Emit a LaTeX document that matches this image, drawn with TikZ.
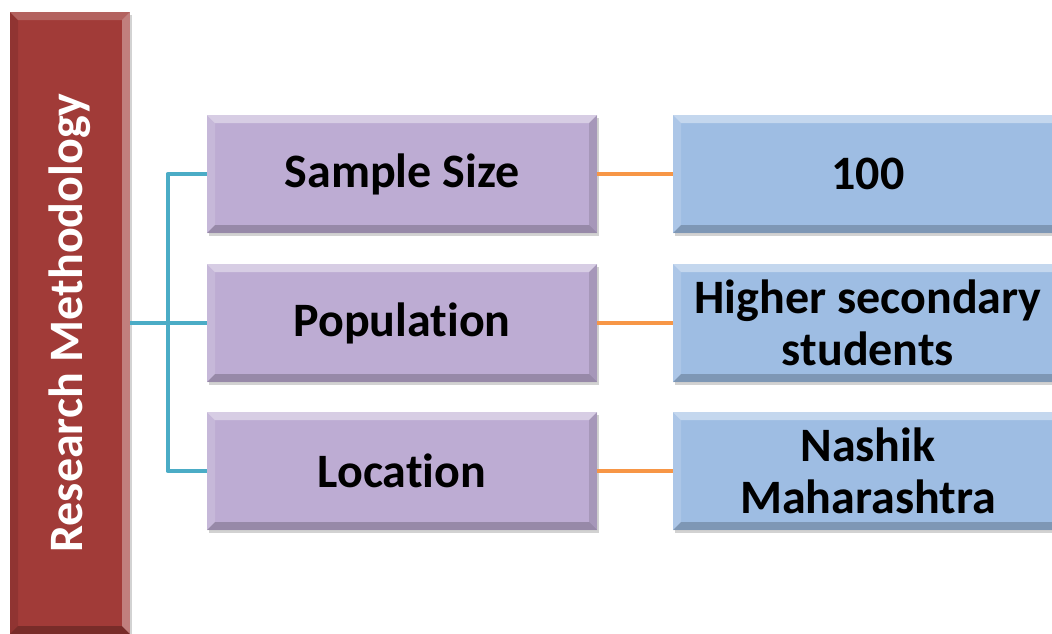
\documentclass[tikz,border=0pt]{standalone}
\usepackage{fontspec}
\usepackage{graphicx}
\setmainfont[Ligatures=NoCommon]{Carlito}
\usetikzlibrary{shadows}
\definecolor{rmred}{RGB}{161,59,56}
\definecolor{boxpurple}{RGB}{189,172,211}
\definecolor{boxblue}{RGB}{158,189,227}
\definecolor{conteal}{RGB}{75,172,198}
\definecolor{conorange}{RGB}{247,150,70}
\tikzset{
  bevel/.style={path picture={
    \path (path picture bounding box.north west) coordinate (NW)
          (path picture bounding box.north east) coordinate (NE)
          (path picture bounding box.south west) coordinate (SW)
          (path picture bounding box.south east) coordinate (SE);
    \fill[white,opacity=0.40] (NW) -- (NE) -- ([xshift=-8pt,yshift=-8pt]NE) -- ([xshift=8pt,yshift=-8pt]NW) -- cycle;
    \fill[white,opacity=0.15] (NW) -- ([xshift=8pt,yshift=-8pt]NW) -- ([xshift=8pt,yshift=8pt]SW) -- (SW) -- cycle;
    \fill[black,opacity=0.12] (NE) -- (SE) -- ([xshift=-8pt,yshift=8pt]SE) -- ([xshift=-8pt,yshift=-8pt]NE) -- cycle;
    \fill[black,opacity=0.20] (SW) -- (SE) -- ([xshift=-8pt,yshift=8pt]SE) -- ([xshift=8pt,yshift=8pt]SW) -- cycle;
  }},
  redbevel/.style={path picture={
    \path (path picture bounding box.north west) coordinate (NW)
          (path picture bounding box.north east) coordinate (NE)
          (path picture bounding box.south west) coordinate (SW)
          (path picture bounding box.south east) coordinate (SE);
    \fill[white,opacity=0.20] (NW) -- (NE) -- ([xshift=-8pt,yshift=-8pt]NE) -- ([xshift=8pt,yshift=-8pt]NW) -- cycle;
    \fill[black,opacity=0.10] (NW) -- ([xshift=8pt,yshift=-8pt]NW) -- ([xshift=8pt,yshift=8pt]SW) -- (SW) -- cycle;
    \fill[white,opacity=0.35] (NE) -- (SE) -- ([xshift=-8pt,yshift=8pt]SE) -- ([xshift=-8pt,yshift=-8pt]NE) -- cycle;
    \fill[black,opacity=0.25] (SW) -- (SE) -- ([xshift=-8pt,yshift=8pt]SE) -- ([xshift=8pt,yshift=8pt]SW) -- cycle;
  }},
  basebox/.style={rectangle, inner sep=0pt, align=center, text=black,
    font=\bfseries\fontsize{48}{52}\selectfont,
    drop shadow={shadow xshift=2pt, shadow yshift=-3pt, opacity=0.35, fill=gray}},
  purplebox/.style={basebox, fill=boxpurple, bevel, minimum width=390pt, minimum height=118pt},
  bluebox/.style={basebox, fill=boxblue, bevel, minimum width=390pt, minimum height=118pt},
  redbox/.style={basebox, fill=rmred, redbevel, text=white, minimum width=120pt, minimum height=622pt},
  tealline/.style={draw=conteal, line width=4.5pt},
  orangeline/.style={draw=conorange, line width=4.5pt}
}
\begin{document}
\begin{tikzpicture}[x=1pt,y=-1pt]
\useasboundingbox[fill=white] (0,0) rectangle (1052,633);
\begin{scope}
\clip (0,0) rectangle (1052,633);
\node[redbox] (rm) at (70,323) {\rotatebox{90}{\raisebox{-4pt}{Research Methodology}}};
\node[purplebox] (ss) at (402,174) {Sample Size};
\node[purplebox] (pop) at (402,323) {Population};
\node[purplebox] (loc) at (402,471) {Location};
\node[bluebox] (v1) at (868,174) {100};
\node[bluebox] (v2) at (868,323) {Higher secondary\\students};
\node[bluebox] (v3) at (868,471) {Nashik\\Maharashtra};
\draw[tealline] (rm.east) -- (pop.west);
\draw[tealline, line join=round] (ss.west) -- ++(-39,0) |- (loc.west);
\draw[orangeline] (ss.east) -- (v1.west);
\draw[orangeline] (pop.east) -- (v2.west);
\draw[orangeline] (loc.east) -- (v3.west);
\end{scope}
\end{tikzpicture}
\end{document}
